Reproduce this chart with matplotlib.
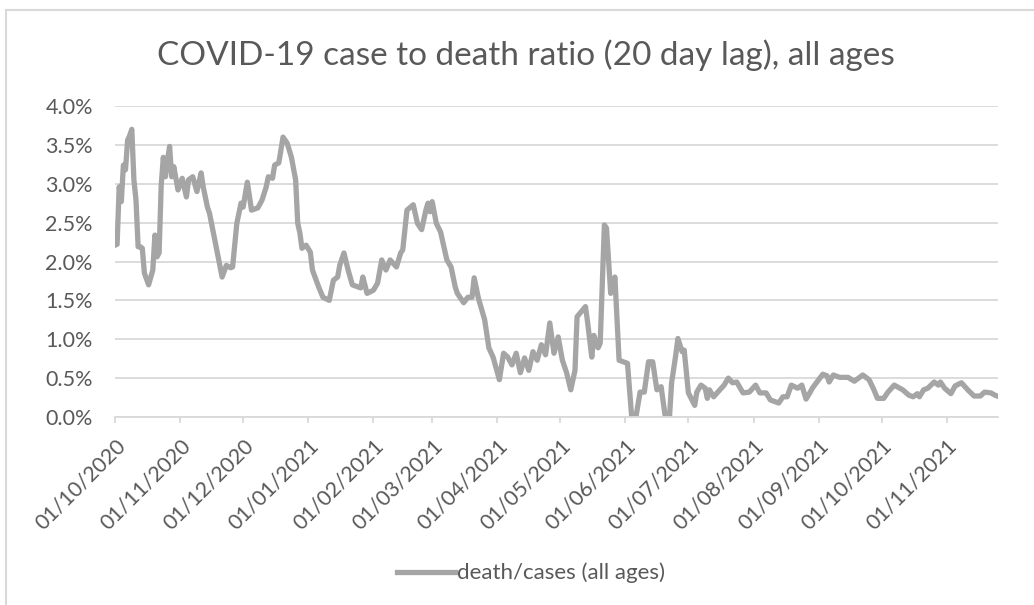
import matplotlib
matplotlib.use('Agg')
import matplotlib.pyplot as plt
import matplotlib.dates as mdates
from matplotlib.lines import Line2D
from matplotlib.ticker import PercentFormatter, MultipleLocator
import numpy as np
import pandas as pd

plt.rcParams['font.family'] = ['Lato', 'DejaVu Sans']

title = 'COVID-19 case to death ratio (20 day lag), all ages'
series_name = 'death/cases (all ages)'
start = pd.Timestamp('2020-10-01')

# days after 01/10/2020, ratio in percent
day = [0, 1, 2, 3, 4, 5, 6, 7, 8, 9, 10, 11, 12, 13, 14, 16, 18, 19, 20, 21,
       22, 23, 24, 25, 26, 27, 28, 30, 32, 34, 35, 37, 39, 41, 42, 44, 45, 51, 53, 55,
       56, 58, 60, 61, 63, 65, 68, 70, 72, 73, 75, 76, 78, 80, 82, 84, 86, 87, 88, 89,
       91, 93, 94, 97, 99, 102, 104, 106, 107, 109, 111, 113, 117, 118, 120, 123, 125, 127, 129, 131,
       134, 136, 137, 139, 142, 144, 146, 148, 149, 150, 151, 153, 155, 158, 160, 162, 163, 166, 168, 170,
       171, 173, 176, 178, 180, 183, 185, 187, 189, 191, 193, 195, 197, 199, 201, 203, 205, 207, 209, 211,
       213, 215, 217, 219, 220, 224, 225, 227, 228, 230, 231, 233, 234, 236, 237, 238, 240, 244, 246, 248,
       250, 252, 254, 256, 258, 260, 262, 264, 265, 267, 268, 270, 271, 273, 276, 277, 279, 281, 282, 283,
       285, 287, 290, 292, 294, 296, 299, 302, 305, 307, 310, 312, 316, 318, 320, 322, 325, 327, 329, 331,
       332, 335, 337, 339, 340, 342, 345, 349, 352, 356, 359, 361, 363, 366, 368, 371, 375, 378, 380, 382,
       383, 385, 387, 390, 392, 393, 395, 398, 400, 403, 406, 409, 412, 414, 417, 419, 420]
ratio = [2.21, 2.22, 2.96, 2.77, 3.24, 3.18, 3.56, 3.62, 3.70, 3.05, 2.79, 2.19, 2.19, 2.17, 1.85, 1.70, 1.89, 2.34, 2.06, 2.11,
         2.98, 3.34, 3.09, 3.30, 3.48, 3.09, 3.22, 2.92, 3.07, 2.83, 3.05, 3.09, 2.90, 3.14, 2.96, 2.70, 2.62, 1.80, 1.95, 1.92,
         1.93, 2.49, 2.75, 2.70, 3.02, 2.66, 2.69, 2.79, 2.96, 3.09, 3.07, 3.24, 3.27, 3.60, 3.52, 3.34, 3.05, 2.49, 2.37, 2.17,
         2.21, 2.12, 1.89, 1.67, 1.54, 1.50, 1.76, 1.80, 1.95, 2.11, 1.89, 1.70, 1.66, 1.80, 1.59, 1.63, 1.72, 2.02, 1.89, 2.02,
         1.93, 2.11, 2.15, 2.66, 2.73, 2.49, 2.41, 2.66, 2.75, 2.64, 2.77, 2.49, 2.38, 2.02, 1.93, 1.67, 1.59, 1.47, 1.54, 1.54,
         1.79, 1.53, 1.25, 0.89, 0.77, 0.48, 0.82, 0.77, 0.67, 0.82, 0.57, 0.76, 0.60, 0.84, 0.73, 0.93, 0.80, 1.21, 0.82, 1.03,
         0.73, 0.57, 0.35, 0.60, 1.29, 1.42, 1.22, 0.77, 1.05, 0.89, 0.95, 2.47, 2.43, 1.59, 1.67, 1.80, 0.73, 0.69, 0.00, 0.00,
         0.32, 0.32, 0.71, 0.71, 0.35, 0.39, 0.00, 0.00, 0.44, 0.80, 1.01, 0.84, 0.86, 0.31, 0.15, 0.32, 0.41, 0.37, 0.24, 0.35,
         0.26, 0.32, 0.41, 0.50, 0.44, 0.45, 0.31, 0.32, 0.41, 0.31, 0.31, 0.22, 0.18, 0.26, 0.26, 0.41, 0.37, 0.41, 0.23, 0.32,
         0.37, 0.48, 0.55, 0.53, 0.45, 0.54, 0.51, 0.51, 0.46, 0.54, 0.48, 0.37, 0.24, 0.24, 0.32, 0.41, 0.35, 0.28, 0.26, 0.30,
         0.26, 0.35, 0.37, 0.45, 0.41, 0.45, 0.37, 0.30, 0.40, 0.44, 0.35, 0.27, 0.27, 0.32, 0.31, 0.28, 0.27]

dates = start + pd.to_timedelta(day, unit='D')
values = np.array(ratio) / 100

text_col = '#595959'
grid_col = '#d9d9d9'

fig = plt.figure(figsize=(10.34, 6.05), dpi=100)
ax = fig.add_axes([115 / 1034, 1 - 417 / 605, 883 / 1034, 311 / 605])

line, = ax.plot(dates, values, color='#a5a5a5', lw=3.8, solid_joinstyle='round', label=series_name)

ax.set_ylim(0, 0.04)
ax.yaxis.set_major_locator(MultipleLocator(0.005))
ax.yaxis.set_major_formatter(PercentFormatter(1, decimals=1))
ax.set_xlim(start, start + pd.Timedelta(days=420.4))
ax.xaxis.set_major_locator(mdates.MonthLocator(bymonthday=1))
ax.xaxis.set_major_formatter(mdates.DateFormatter('%d/%m/%Y'))

ax.grid(axis='y', color=grid_col, lw=1.3)
ax.set_axisbelow(True)
for s in ['left', 'right', 'top']:
    ax.spines[s].set_visible(False)
ax.spines['bottom'].set_color(grid_col)
ax.spines['bottom'].set_linewidth(1.3)

ax.tick_params(axis='y', length=0, pad=16, labelsize=15.5, labelcolor=text_col)
ax.tick_params(axis='x', length=4.5, width=1.3, color=grid_col, pad=9, labelsize=15.5, labelcolor=text_col)
for lab in ax.get_xticklabels():
    lab.set_rotation(45)
    lab.set_ha('right')
    lab.set_va('top')
    lab.set_rotation_mode('anchor')

fig.text(526 / 1034, 1 - 55 / 605, title, ha='center', va='center', fontsize=24, color=text_col)

fig.legend(handles=[line], loc='center', bbox_to_anchor=(531 / 1034, 1 - 573 / 605),
           frameon=False, fontsize=16, labelcolor=text_col, handlelength=2.6, handletextpad=0.1)

# chart area border (top and left visible in the crop)
fig.add_artist(Line2D([6 / 1034, 6 / 1034], [0, 1 - 10 / 605], color=grid_col, lw=1.5))
fig.add_artist(Line2D([6 / 1034, 1], [1 - 10 / 605, 1 - 10 / 605], color=grid_col, lw=1.5))

fig.savefig('out.png', dpi=100)
